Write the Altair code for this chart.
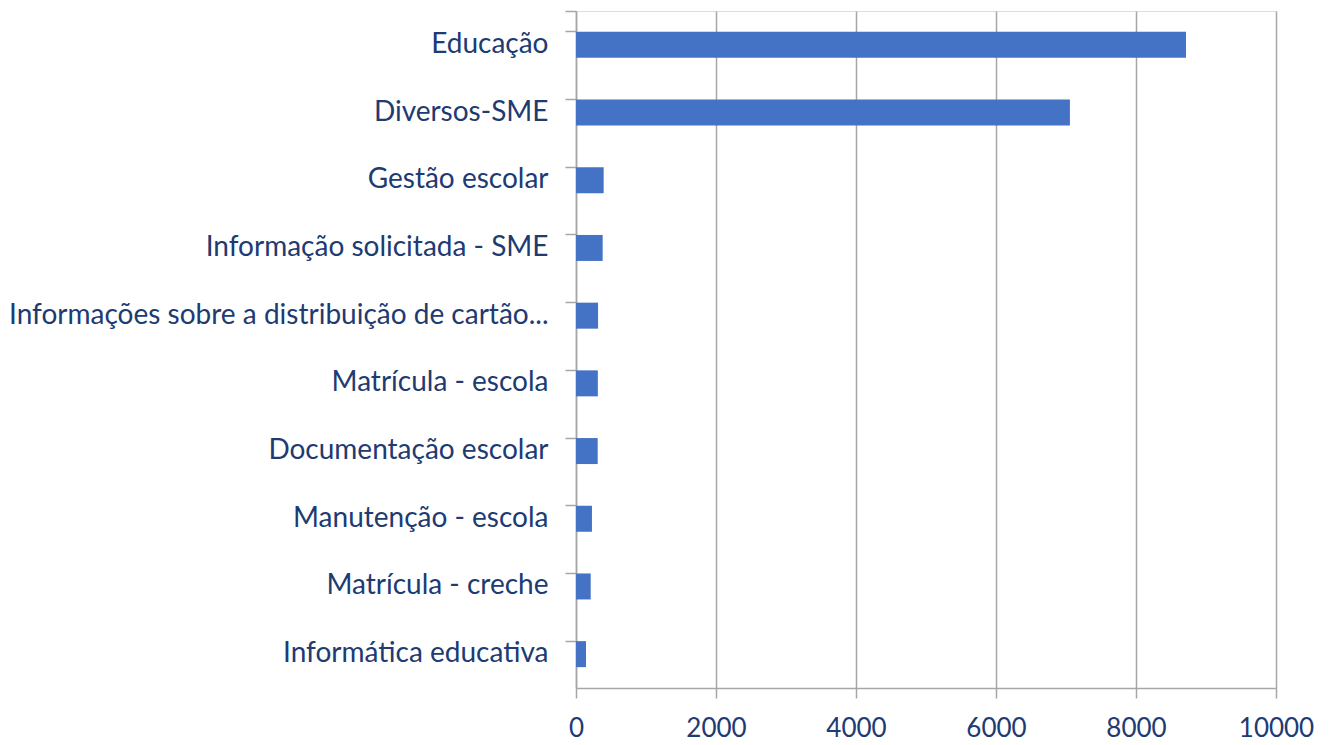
import altair as alt
import pandas as pd

categories = [
    "Educação",
    "Diversos-SME",
    "Gestão escolar",
    "Informação solicitada - SME",
    "Informações sobre a distribuição de cartão...",
    "Matrícula - escola",
    "Documentação escolar",
    "Manutenção - escola",
    "Matrícula - creche",
    "Informática educativa",
]
values = [8714, 7056, 395, 381, 315, 312, 310, 228, 210, 143]
x_ticks = [0, 2000, 4000, 6000, 8000, 10000]

df = pd.DataFrame({"categoria": categories, "valor": values})

label_color = "#203A72"
grid_color = "#A6A6A6"

chart = (
    alt.Chart(df)
    .mark_bar(color="#4472C4")
    .encode(
        x=alt.X(
            "valor:Q",
            scale=alt.Scale(domain=[0, 10000], nice=False, zero=True),
            axis=alt.Axis(
                values=x_ticks,
                title=None,
                grid=True,
                gridColor=grid_color,
                gridWidth=1.5,
                domainColor=grid_color,
                domainWidth=1.5,
                tickColor=grid_color,
                tickWidth=1.5,
                tickSize=10,
                labelFont="Lato",
                labelFontSize=26,
                labelColor=label_color,
                labelPadding=17,
                labelFlush=False,
                labelOverlap=False,
                format="d",
            ),
        ),
        y=alt.Y(
            "categoria:N",
            sort=categories,
            scale=alt.Scale(paddingInner=0.616, paddingOuter=0.308),
            axis=alt.Axis(
                title=None,
                domainColor=grid_color,
                domainWidth=1.5,
                tickColor=grid_color,
                tickWidth=1.5,
                tickSize=11,
                bandPosition=0,
                tickExtra=True,
                labelFont="Lato",
                labelFontSize=28,
                labelColor=label_color,
                labelPadding=17,
                labelLimit=575,
            ),
        ),
    )
    .properties(
        width=700,
        height=677,
        autosize=alt.AutoSizeParams(type="none"),
        padding={"left": 568, "top": 3, "right": 45, "bottom": 53},
    )
    .configure_view(stroke=None)
    .configure(background="white")
)

chart.save("out.html", embed_options={"renderer": "svg", "actions": False})
